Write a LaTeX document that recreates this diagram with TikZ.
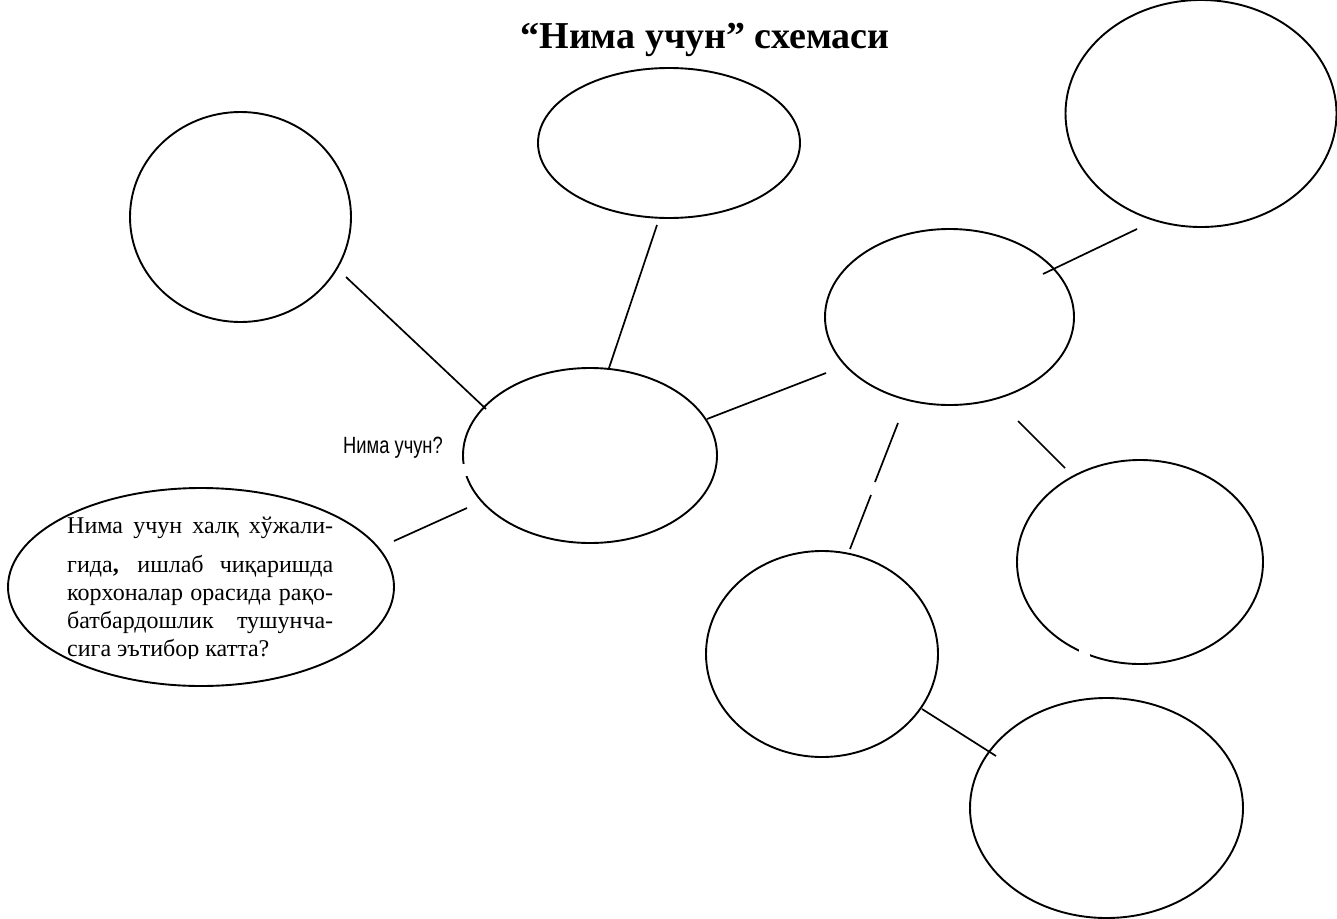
\documentclass[tikz,border=0pt]{standalone}
\usepackage{fontspec}
\setmainfont{Liberation Serif}
\newfontfamily\labelfont{Liberation Sans}
\usetikzlibrary{shapes.geometric}
\tikzset{
  bubble/.style={draw=black, line width=1.9pt, ellipse, inner sep=0pt},
  link/.style={draw=black, line width=1.7pt},
  gap/.style={fill=white, draw=none},
  bodyline/.style={anchor=base west, inner sep=0pt, font=\fontsize{24}{28}\selectfont}
}
\begin{document}
\begin{tikzpicture}[x=1pt,y=-1pt]
\useasboundingbox (0,0) rectangle (1337,918);
% title
\node[anchor=base, inner sep=0pt, font=\fontsize{38}{44}\bfseries] (title) at (705,48) {“Нима учун” схемаси};
% ellipses
\node[bubble, minimum width=221pt, minimum height=210pt] (tl) at (240.5,217) {};
\node[bubble, minimum width=262pt, minimum height=150pt] (tm) at (669,143) {};
\node[bubble, minimum width=271pt, minimum height=227pt] (tr) at (1201,113.5) {};
\node[bubble, minimum width=254pt, minimum height=175pt] (c) at (590,455.5) {};
\node[bubble, minimum width=249pt, minimum height=176pt] (rm) at (949.5,317) {};
\node[bubble, minimum width=246pt, minimum height=204pt] (r) at (1140,562) {};
\node[bubble, minimum width=232pt, minimum height=206pt] (lm) at (822,654) {};
\node[bubble, minimum width=273pt, minimum height=220pt] (br) at (1106.5,808) {};
\node[bubble, minimum width=386pt, minimum height=198pt] (lb) at (201,587) {};
% small breaks in outlines
\fill[gap] (1079,645) rectangle (1090,658);
\fill[gap] (458,464) rectangle (470,476);
% connector end points
\coordinate (a1) at (346,277);  \coordinate (a2) at (486,409);
\coordinate (b1) at (657,225);  \coordinate (b2) at (609,368);
\coordinate (d1) at (707,419);  \coordinate (d2) at (826,373);
\coordinate (e1) at (1043,274); \coordinate (e2) at (1137,229);
\coordinate (f1) at (1018,421); \coordinate (f2) at (1065,468);
\coordinate (g1) at (898,423);  \coordinate (g2) at (875,482);
\coordinate (g3) at (871,495);  \coordinate (g4) at (850,549);
\coordinate (h1) at (922,709);  \coordinate (h2) at (996,756);
\coordinate (k1) at (394,541);  \coordinate (k2) at (467,508);
\draw[link] (a1) -- (a2);
\draw[link] (b1) -- (b2);
\draw[link] (d1) -- (d2);
\draw[link] (e1) -- (e2);
\draw[link] (f1) -- (f2);
\draw[link] (g1) -- (g2);
\draw[link] (g3) -- (g4);
\draw[link] (h1) -- (h2);
\draw[link] (k1) -- (k2);
% label
\node[anchor=base, inner sep=0pt] (why) at (393,453) {\scalebox{0.78}[1]{\labelfont\fontsize{23.5}{28}\selectfont Нима учун?}};
% text in the left ellipse
\begin{scope}
\clip (0,480) rectangle (400,658.5);
\node[bodyline] (t1) at (67,533) {\makebox[266pt][s]{Нима учун халқ хўжали-}};
\node[bodyline] (t2) at (67,572) {\makebox[266pt][s]{гида\textbf{,} ишлаб чиқаришда}};
\node[bodyline] (t3) at (67,600) {\makebox[266pt][s]{корхоналар орасида рақо-}};
\node[bodyline] (t4) at (67,628) {\makebox[266pt][s]{батбардошлик тушунча-}};
\node[bodyline] (t5) at (67,656) {сига эътибор катта?};
\end{scope}
\end{tikzpicture}
\end{document}
